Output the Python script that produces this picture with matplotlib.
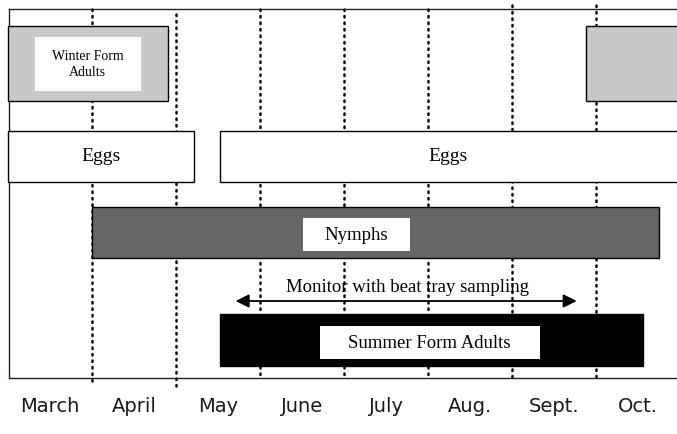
import matplotlib.pyplot as plt
from matplotlib.patches import Rectangle

# months along the bottom (x unit = 1 month, 0 = start of March)
months = ['March', 'April', 'May', 'June', 'July', 'Aug.', 'Sept.', 'Oct.']
month_lines = [1, 2, 3, 4, 5, 6, 7]

# life stages: label, start, end (months), fill colour
stages = ['Winter Form\nAdults', '', 'Eggs', 'Eggs', 'Nymphs', 'Summer Form Adults']
starts = [0.0, 6.88, 0.0, 2.52, 1.0, 2.52]
ends = [1.9, 8.2, 2.21, 8.2, 7.75, 7.56]
fills = ['#c8c8c8', '#c8c8c8', 'white', 'white', '#666666', 'black']

# monitoring period
monitor_start, monitor_end = 2.71, 6.77
monitor_label = 'Monitor with beat tray sampling'

# layout (y in pixels from top)
rows_y = [(26, 101), (26, 101), (131, 182), (131, 182), (207, 258), (314, 366)]
label_box = [(0.32, 1.58, 37, 91), None, None, None, (3.51, 4.78, 218, 251),
             (3.71, 6.33, 326, 359)]
label_size = [10, 10, 14, 14, 13.5, 13.5]

fig = plt.figure(figsize=(6.77, 4.34), dpi=100)
ax = fig.add_axes([0, 0, 1, 1])
ax.set_xlim(-8 / 84, 669 / 84)
ax.set_ylim(434, 0)
ax.axis('off')

serif = 'Liberation Serif'

# frame
ax.plot([0.01, 0.01], [9, 378], color='#20203a', lw=1)
ax.plot([0.01, 8.2], [9, 9], color='#20203a', lw=1)
ax.plot([0.01, 8.2], [378, 378], color='#20203a', lw=1)

# dotted month boundaries
tops = [9, 14, 9, 9, 9, 5, 5]
bots = [381, 386, 379, 379, 379, 379, 379]
for m, t, b in zip(month_lines, tops, bots):
    ax.plot([m, m], [t, b], color='black', lw=1.8,
            linestyle=(0, (0.6, 2.0)), dash_capstyle='round', zorder=1)

for i, (lab, s, e, c) in enumerate(zip(stages, starts, ends, fills)):
    y0, y1 = rows_y[i]
    ax.add_patch(Rectangle((s, y0), e - s, y1 - y0, facecolor=c,
                           edgecolor='black', lw=1, zorder=2))
    cy = (y0 + y1) / 2
    if label_box[i] is not None:
        bx0, bx1, by0, by1 = label_box[i]
        ax.add_patch(Rectangle((bx0, by0), bx1 - bx0, by1 - by0,
                               facecolor='white', edgecolor='none', zorder=3))
        cx = (bx0 + bx1) / 2
        cy = (by0 + by1) / 2 + 1
    else:
        cx = (s + min(e, 7.96)) / 2
    if lab:
        ax.text(cx, cy, lab, ha='center', va='center',
                fontsize=label_size[i], family=serif, zorder=4,
                linespacing=1.3)

# monitoring arrow
ax.annotate('', xy=(monitor_start, 301), xytext=(monitor_end, 301),
            arrowprops=dict(arrowstyle='<|-|>', color='black', lw=1.3,
                            mutation_scale=20, shrinkA=0, shrinkB=0),
            zorder=4)
ax.text((monitor_start + monitor_end) / 2 + 0.02, 287, monitor_label,
        ha='center', va='center', fontsize=13.5, family=serif, zorder=4)

# month labels
for i, m in enumerate(months):
    ax.text(i + 0.5, 407, m, ha='center', va='center', fontsize=14,
            family='DejaVu Sans', color='#1a1a1a')

fig.savefig('out.png', dpi=100)
